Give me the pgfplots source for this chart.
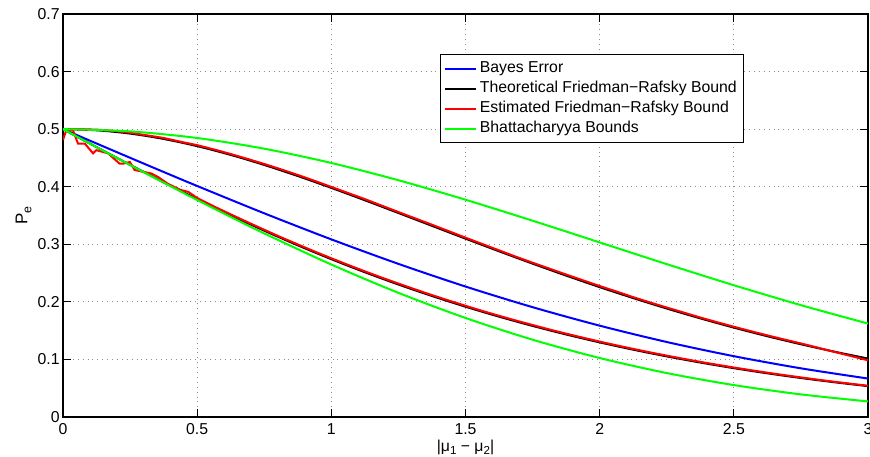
\documentclass[border=0pt]{standalone}
\usepackage{fontspec}
\setmainfont{Liberation Sans}
\usepackage{pgfplots}
\pgfplotsset{compat=1.18}
\begin{document}
\begin{tikzpicture}
\begin{axis}[
  name=ax,
  at={(0,0)}, anchor=south west,
  scale only axis,
  width=402.5pt, height=201.5pt,
  xmin=0, xmax=3, ymin=0, ymax=0.7,
  xtick={0,0.5,1,1.5,2,2.5,3},
  ytick={0,0.1,0.2,0.3,0.4,0.5,0.6,0.7},
  /pgf/number format/.cd, fixed, precision=1, assume math mode=true,
  /pgfplots/.cd,
  tick align=inside,
  major tick length=4pt,
  tick style={black, line width=0.5pt},
  axis line style={black, line width=0.6pt},
  grid=major,
  major grid style={black!45, line width=0.45pt, dotted},
  ticklabel style={font=\fontsize{7.9}{9}\selectfont},
  yticklabel style={inner sep=0pt, xshift=-1.5pt},
  xticklabel style={inner sep=0pt, yshift=-3pt},
  xlabel={|μ\raisebox{-0.35ex}{\fontsize{5.8}{6}\selectfont 1} − μ\raisebox{-0.35ex}{\fontsize{5.8}{6}\selectfont 2}|},
  ylabel={P\raisebox{-0.45ex}{\fontsize{6.2}{6}\selectfont e}},
  every axis x label/.style={at={(rel axis cs:0.5,0)}, anchor=north, inner sep=0pt, yshift=-11.2pt, font=\fontsize{7.9}{9}\selectfont},
  every axis y label/.style={at={(rel axis cs:0,0.5)}, xshift=-15.5pt, rotate=90, anchor=south, inner sep=0pt, font=\fontsize{8.5}{9}\selectfont},
  legend cell align=left,
  legend image code/.code={\draw[#1] (0pt,0pt) -- (15.5pt,0pt);},
  legend style={at={(0.4683,0.9007)}, anchor=north west, draw=black, line width=0.5pt, fill=white,
    inner xsep=2pt, inner ysep=2pt, row sep=0pt,
    font=\fontsize{7.9}{8}\selectfont,
    nodes={inner xsep=1.2pt, inner ysep=1.8pt, text height=5.1pt, text depth=1.3pt}},
]
% Bayes error
\addplot[blue, line width=1pt, smooth] coordinates {
(0,0.5) (0.125,0.47508) (0.25,0.45026) (0.375,0.42563) (0.5,0.40129) (0.75,0.35383) (1,0.30854) (1.25,0.26599) (1.5,0.22663) (1.75,0.19079) (2,0.15866) (2.25,0.13029) (2.5,0.10565) (2.75,0.08457) (3,0.06681)};
\addlegendentry{Bayes Error}
% Theoretical FR upper
\addplot[black, line width=1pt, smooth] coordinates {
(0,0.5) (0.125,0.49805) (0.25,0.49230) (0.375,0.48300) (0.5,0.47051) (0.625,0.45530) (0.75,0.43784) (0.875,0.41859) (1,0.39798) (1.125,0.37647) (1.25,0.35437) (1.375,0.33208) (1.5,0.30981) (1.625,0.28787) (1.75,0.26641) (1.875,0.24564) (2,0.22564) (2.125,0.20657) (2.25,0.18845) (2.375,0.17136) (2.5,0.15530) (2.625,0.14032) (2.75,0.12637) (2.875,0.11344) (3,0.10154)};
\addlegendentry{Theoretical Friedman−Rafsky Bound}
% Theoretical FR lower
\addplot[black, line width=1pt, smooth, forget plot] coordinates {
(0,0.5) (0.125,0.46881) (0.25,0.43797) (0.375,0.40782) (0.5,0.37858) (0.625,0.35053) (0.75,0.32370) (0.875,0.29824) (1,0.27414) (1.125,0.25146) (1.25,0.23016) (1.375,0.21023) (1.5,0.19162) (1.625,0.17432) (1.75,0.15825) (1.875,0.14337) (2,0.12962) (2.125,0.11696) (2.25,0.10532) (2.375,0.09463) (2.5,0.08485) (2.625,0.07592) (2.75,0.06778) (2.875,0.06038) (3,0.05365)};
% Estimated FR upper
\addplot[red, line width=1pt] coordinates {
(0,0.5000) (0.0625,0.4998) (0.125,0.4992) (0.1875,0.4970) (0.25,0.4938) (0.3125,0.4893) (0.375,0.4847) (0.4375,0.4782) (0.5,0.4722) (0.5625,0.4648) (0.625,0.4568) (0.6875,0.4483) (0.75,0.4395) (0.8125,0.4302) (0.875,0.4205) (0.9375,0.4102) (1,0.3997) (1.0625,0.3890) (1.125,0.3785) (1.1875,0.3672) (1.25,0.3560) (1.3125,0.3450) (1.375,0.3340) (1.4375,0.3228) (1.5,0.3115) (1.5625,0.3005) (1.625,0.2895) (1.6875,0.2785) (1.75,0.2680) (1.8125,0.2578) (1.875,0.2475) (1.9375,0.2375) (2,0.2275) (2.0625,0.2180) (2.125,0.2082) (2.1875,0.1990) (2.25,0.1902) (2.3125,0.1815) (2.375,0.1728) (2.4375,0.1647) (2.5,0.1568) (2.5625,0.1492) (2.625,0.1418) (2.6875,0.1347) (2.75,0.1278) (2.8125,0.1205) (2.875,0.1130) (2.9375,0.1058) (3,0.0985)};
\addlegendentry{Estimated Friedman−Rafsky Bound}
% Estimated FR lower
\addplot[red, line width=1pt, forget plot] coordinates {
(0,0.481) (0.012,0.498) (0.037,0.498) (0.056,0.475) (0.081,0.475) (0.112,0.458) (0.124,0.4635) (0.168,0.458) (0.211,0.440) (0.224,0.440) (0.249,0.443) (0.267,0.429) (0.298,0.426) (0.329,0.423) (0.354,0.417) (0.391,0.405) (0.4375,0.3945) (0.467,0.391) (0.5,0.3805) (0.5625,0.3658) (0.625,0.3520) (0.6875,0.3385) (0.75,0.3252) (0.8125,0.3122) (0.875,0.2998) (0.9375,0.2875) (1,0.2757) (1.0625,0.2642) (1.125,0.2530) (1.1875,0.2422) (1.25,0.2318) (1.3125,0.2216) (1.375,0.2118) (1.4375,0.2023) (1.5,0.1932) (1.5625,0.1843) (1.625,0.1758) (1.6875,0.1676) (1.75,0.1598) (1.8125,0.1521) (1.875,0.1448) (1.9375,0.1378) (2,0.1310) (2.0625,0.1245) (2.125,0.1183) (2.1875,0.1123) (2.25,0.1066) (2.3125,0.1011) (2.375,0.0958) (2.4375,0.0908) (2.5,0.0860) (2.5625,0.0814) (2.625,0.0770) (2.6875,0.0728) (2.75,0.0688) (2.8125,0.0649) (2.875,0.0612) (2.9375,0.0577) (3,0.0543)};
% Bhattacharyya upper
\addplot[green, line width=1pt, smooth] coordinates {
(0,0.5) (0.25,0.496109) (0.5,0.484617) (0.75,0.466051) (1,0.441248) (1.25,0.411289) (1.5,0.37742) (1.75,0.340971) (2,0.303265) (2.25,0.265551) (2.5,0.228917) (2.75,0.194287) (3,0.162326)};
\addlegendentry{Bhattacharyya Bounds}
% Bhattacharyya lower
\addplot[green, line width=1pt, smooth, forget plot] coordinates {
(0,0.5) (0.125,0.46878) (0.25,0.43774) (0.375,0.40707) (0.5,0.37693) (0.625,0.34749) (0.75,0.31890) (1,0.26484) (1.25,0.21567) (1.5,0.17205) (1.75,0.13430) (2,0.10247) (2.25,0.07634) (2.5,0.05548) (2.75,0.03929) (3,0.02708)};
\end{axis}
\pgfresetboundingbox
\path[use as bounding box] ([shift={(-31.5pt,-19.5pt)}]ax.south west) rectangle ([shift={(403.5pt,208.5pt)}]ax.south west);
\end{tikzpicture}
\end{document}
